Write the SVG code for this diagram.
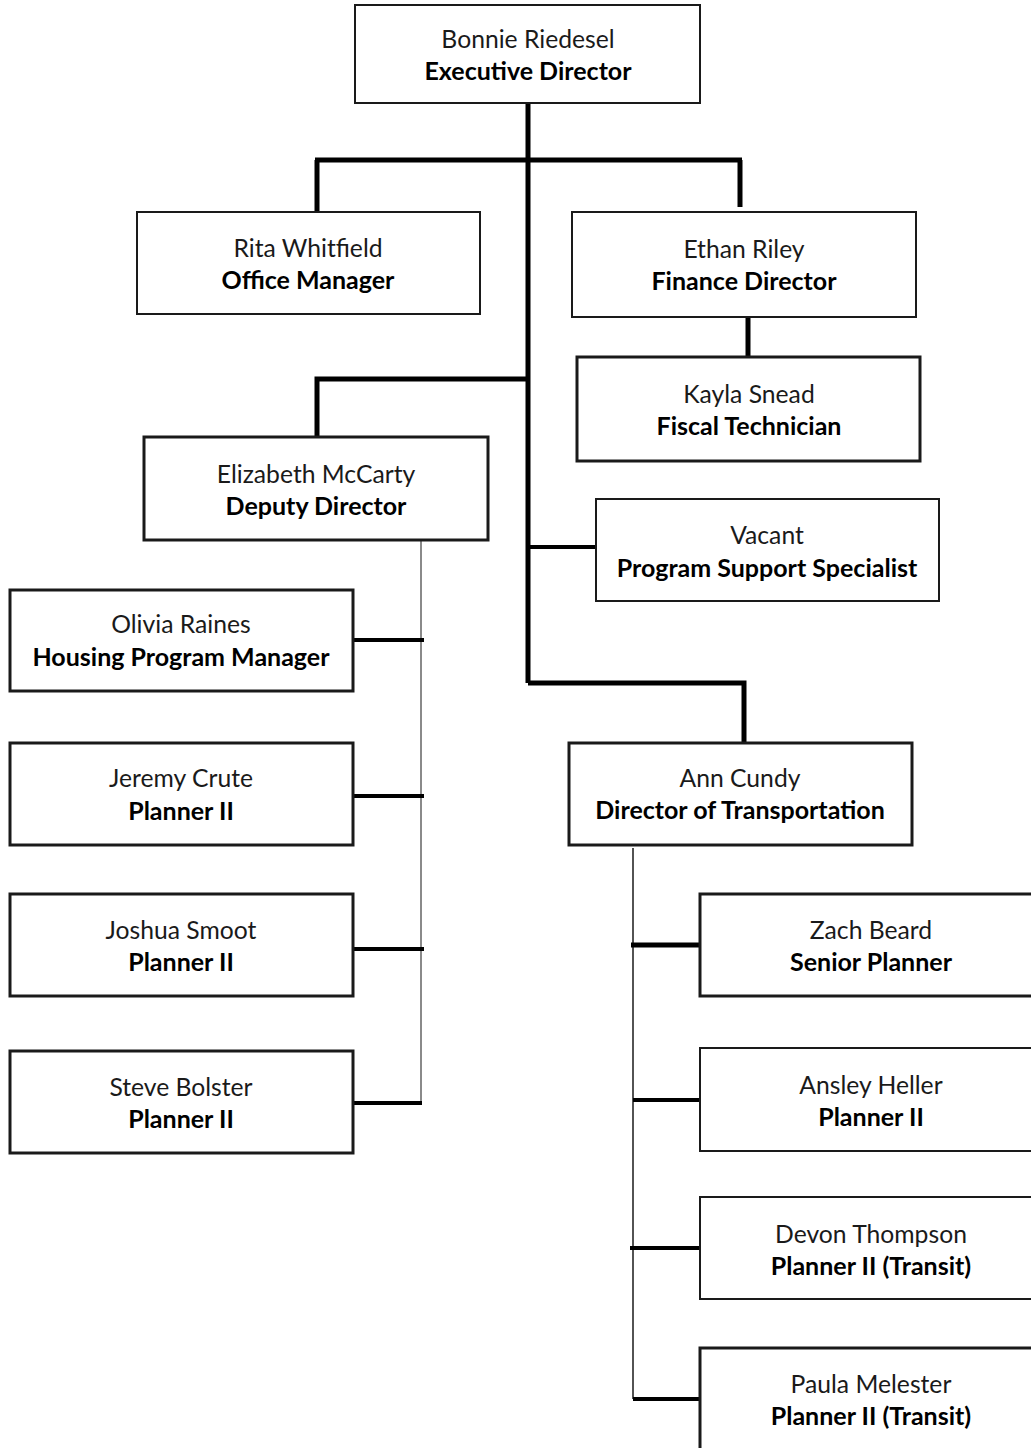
<svg xmlns="http://www.w3.org/2000/svg" width="1031" height="1448" viewBox="0 0 1031 1448">
<style>
.box{fill:#fff;stroke:#1a1a1a;stroke-width:2}
.thick{stroke-width:3}
.n{font-family:Lato,"Liberation Sans",sans-serif;font-size:24.7px;fill:#1a1a1a;text-anchor:middle}
.t{font-family:Lato,"Liberation Sans",sans-serif;font-size:25px;font-weight:bold;fill:#000;text-anchor:middle}
.c{stroke:#000;stroke-width:5;fill:none}
.cm{stroke:#000;stroke-width:4;fill:none}
.g{stroke:#8a8a8a;stroke-width:2;fill:none}
.thin{stroke:#1a1a1a;stroke-width:1.5;fill:none}
</style>
<rect width="1031" height="1448" fill="#fff"/>
<g id="connectors">
<path class="c" d="M528 103 V683"/>
<path class="c" d="M315 160 H742"/>
<path class="c" d="M317 160 V212"/>
<path class="c" d="M740 160 V207"/>
<path class="c" d="M748 317 V357"/>
<path class="c" d="M528 379 H317 V436"/>
<path class="cm" d="M528 547 H596"/>
<path class="c" d="M528 683 H744 V743"/>
<path class="g" d="M421 540 V1103"/>
<path class="cm" d="M353 640 H424"/>
<path class="cm" d="M353 796 H424"/>
<path class="cm" d="M353 949 H424"/>
<path class="cm" d="M353 1103 H422"/>
<path class="thin" d="M633 848 V1399"/>
<path class="c" d="M631 945 H700"/>
<path class="cm" d="M633 1100 H700"/>
<path class="cm" d="M630 1248 H700"/>
<path class="cm" d="M633 1399 H700"/>
</g>
<g id="bonnie"><rect class="box" x="355" y="5" width="345" height="98"/><text class="n" x="528" y="48">Bonnie Riedesel</text><text class="t" x="528" y="80">Executive Director</text></g>
<g id="rita"><rect class="box" x="137" y="212" width="343" height="102"/><text class="n" x="308" y="257">Rita Whitfield</text><text class="t" x="308" y="289">Office Manager</text></g>
<g id="ethan"><rect class="box" x="572" y="212" width="344" height="105"/><text class="n" x="744" y="258">Ethan Riley</text><text class="t" x="744" y="290">Finance Director</text></g>
<g id="kayla"><rect class="box thick" x="577" y="357" width="343" height="104"/><text class="n" x="749" y="403">Kayla Snead</text><text class="t" x="749" y="435">Fiscal Technician</text></g>
<g id="vacant"><rect class="box" x="596" y="499" width="343" height="102"/><text class="n" x="767" y="544">Vacant</text><text class="t" x="767" y="577">Program Support Specialist</text></g>
<g id="elizabeth"><rect class="box thick" x="144" y="437" width="344" height="103"/><text class="n" x="316" y="483">Elizabeth McCarty</text><text class="t" x="316" y="515">Deputy Director</text></g>
<g id="olivia"><rect class="box thick" x="10" y="590" width="343" height="101"/><text class="n" x="181" y="633">Olivia Raines</text><text class="t" x="181" y="666">Housing Program Manager</text></g>
<g id="jeremy"><rect class="box thick" x="10" y="743" width="343" height="102"/><text class="n" x="181" y="787">Jeremy Crute</text><text class="t" x="181" y="820">Planner II</text></g>
<g id="joshua"><rect class="box thick" x="10" y="894" width="343" height="102"/><text class="n" x="181" y="939">Joshua Smoot</text><text class="t" x="181" y="971">Planner II</text></g>
<g id="steve"><rect class="box thick" x="10" y="1051" width="343" height="102"/><text class="n" x="181" y="1096">Steve Bolster</text><text class="t" x="181" y="1128">Planner II</text></g>
<g id="ann"><rect class="box thick" x="569" y="743" width="343" height="102"/><text class="n" x="740" y="787">Ann Cundy</text><text class="t" x="740" y="819">Director of Transportation</text></g>
<g id="zach"><rect class="box thick" x="700" y="894" width="345" height="102"/><text class="n" x="871" y="939">Zach Beard</text><text class="t" x="871" y="971">Senior Planner</text></g>
<g id="ansley"><rect class="box" x="700" y="1048" width="345" height="103"/><text class="n" x="871" y="1094">Ansley Heller</text><text class="t" x="871" y="1126">Planner II</text></g>
<g id="devon"><rect class="box" x="700" y="1197" width="345" height="102"/><text class="n" x="871" y="1243">Devon Thompson</text><text class="t" x="871" y="1275">Planner II (Transit)</text></g>
<g id="paula"><rect class="box thick" x="700" y="1348" width="345" height="110"/><text class="n" x="871" y="1393">Paula Melester</text><text class="t" x="871" y="1425">Planner II (Transit)</text></g>
</svg>
